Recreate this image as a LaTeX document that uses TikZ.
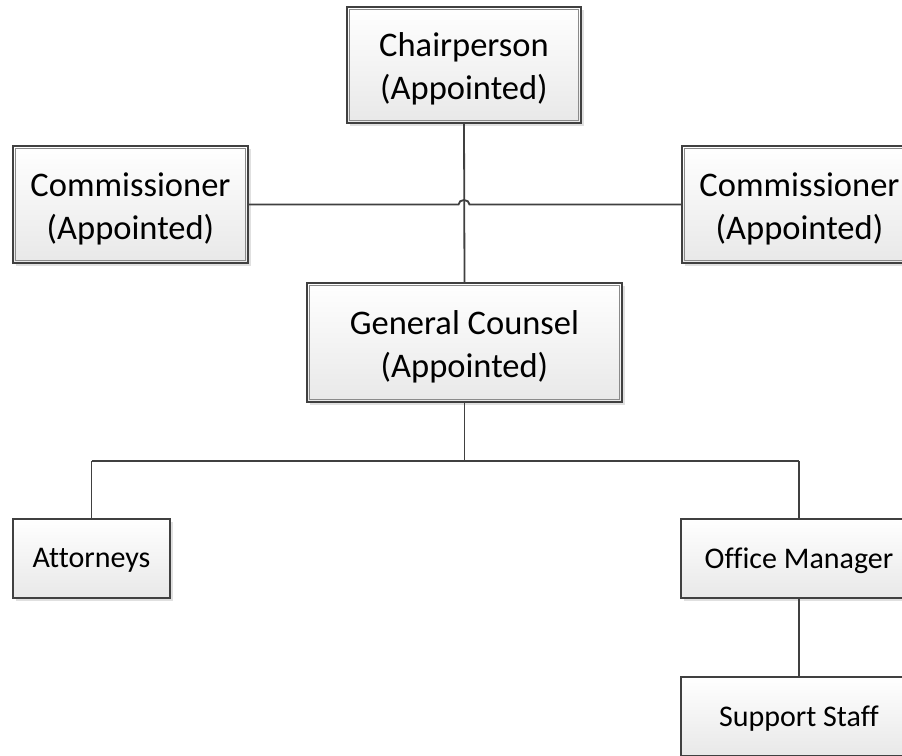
\documentclass[tikz,border=0pt]{standalone}
\usepackage{fontspec}
\setmainfont{Carlito}[Ligatures={NoCommon}]
\usetikzlibrary{shadows,calc}
\definecolor{edge}{HTML}{404040}
\definecolor{inner}{HTML}{8A8A8A}
\tikzset{
  box/.style={draw=edge, line width=1.3pt, top color=white, bottom color=black!9,
    inner sep=0pt,
    drop shadow={shadow xshift=2.5pt, shadow yshift=-2.5pt, fill=black, opacity=0.12}},
  bigtext/.style={align=center, inner sep=0pt, text=black, font=\fontsize{34.5}{43}\selectfont},
  smalltext/.style={align=center, inner sep=0pt, text=black, font=\fontsize{30}{36}\selectfont},
  innerline/.style={draw=inner, line width=1.2pt},
  conn/.style={draw=edge, line width=1.8pt}
}
\begin{document}
\begin{tikzpicture}[x=1pt,y=1pt]
\useasboundingbox (0,0) rectangle (902,-755);
\clip (0,0) rectangle (902,-755);
\fill[white] (0,0) rectangle (902,-755);
% boxes
\node[box, minimum width=234pt, minimum height=116pt] (ch) at (464,-65) {};
\node[box, minimum width=235pt, minimum height=117pt] (cl) at (130.5,-204.5) {};
\node[box, minimum width=235pt, minimum height=117pt] (cr) at (799.5,-204.5) {};
\node[box, minimum width=315pt, minimum height=119pt] (gc) at (464.5,-342.5) {};
\node[box, minimum width=157pt, minimum height=79pt] (att) at (91.5,-558.5) {};
\node[box, minimum width=236pt, minimum height=79pt] (om) at (799,-558.5) {};
\node[box, minimum width=236pt, minimum height=79pt] (ss) at (799,-716.5) {};
% inner borders of appointed boxes
\foreach \n in {ch,cl,cr,gc}{
  \draw[innerline] ([xshift=3.5pt,yshift=-3.5pt]\n.north west) rectangle ([xshift=-3.5pt,yshift=3.5pt]\n.south east);
}
% texts
\node[bigtext] (cht) at ([yshift=-4pt]ch.center) {Chairperson\\(Appointed)};
\node[bigtext] (clt) at ([yshift=-4pt]cl.center) {Commissioner\\(Appointed)};
\node[bigtext] (crt) at ([yshift=-4pt]cr.center) {Commissioner\\(Appointed)};
\node[bigtext] (gct) at ([yshift=-4pt]gc.center) {General Counsel\\(Appointed)};
\node[smalltext] (attt) at ([yshift=-2pt]att.center) {Attorneys};
\node[smalltext] (omt) at ([yshift=-2pt]om.center) {Office Manager};
\node[smalltext] (sst) at ([yshift=-2pt]ss.center) {Support Staff};
% connectors
\draw[conn] (ch.south) -- (gc.north);
\draw[conn] (cl.east) -- ([xshift=-5.5pt]cl.east -| ch.south)
  arc[start angle=180, end angle=0, x radius=5.5pt, y radius=4.5pt] -- (cr.west);
\coordinate (bus) at (464,-461);
\draw[conn] (gc.south) -- (gc.south |- bus);
\draw[conn] (bus -| att.north) -- (bus -| om.north);
\draw[conn] (bus -| att.north) -- (att.north);
\draw[conn] (bus -| om.north) -- (om.north);
\draw[conn] (om.south) -- (ss.north);
\end{tikzpicture}
\end{document}
